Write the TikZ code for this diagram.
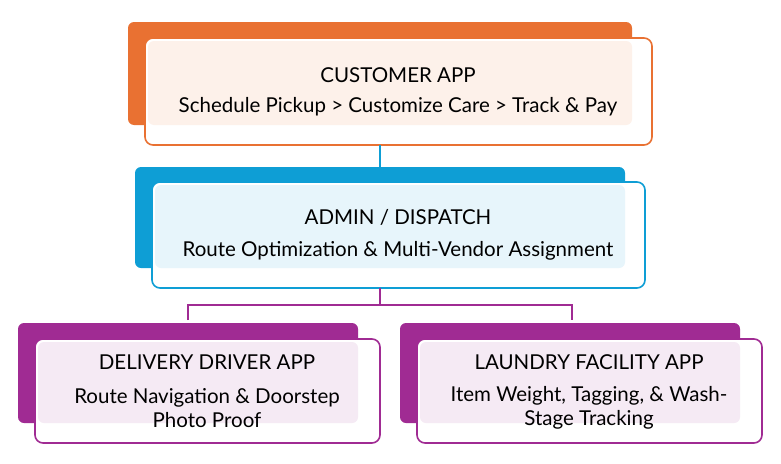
\documentclass[tikz,border=0pt]{standalone}
\usepackage{fontspec}
\setmainfont{Lato}
\definecolor{cOrange}{HTML}{E97132}
\definecolor{cBlue}{HTML}{0E9ED5}
\definecolor{cPurple}{HTML}{A02B93}
\tikzset{
    backbox/.style={fill=#1, rounded corners=6pt},
    framebox/.style={draw=#1, line width=1.6pt, fill=white, rounded corners=8pt},
    tintbox/.style={fill=#1!10, rounded corners=6pt},
    title/.style={font=\fontsize{20.5}{24}\selectfont},
    body/.style={font=\fontsize{20.5}{24}\selectfont, align=center},
    link/.style={draw=#1, line width=1.6pt}
}
\begin{document}
\begin{tikzpicture}[x=1pt,y=-1pt]
    \useasboundingbox (0,0) rectangle (781,463);

    % Customer app
    \fill[backbox=cOrange] (128,22) rectangle (632,125);
    \draw[framebox=cOrange] (145,38) rectangle (652,145);
    \fill[tintbox=cOrange] (148,41) rectangle (632,125);
    \node[title] (cust_t) at (398,75) {CUSTOMER APP};
    \node[body] (cust_b) at (398,107) {Schedule Pickup > Customize Care > Track \& Pay};
    \coordinate (cust_s) at (380,145);

    % Admin / dispatch
    \fill[backbox=cBlue] (135,167) rectangle (625,268);
    \draw[framebox=cBlue] (152,182) rectangle (645,288);
    \fill[tintbox=cBlue] (155,185) rectangle (625,268);
    \node[title] (adm_t) at (398,217) {ADMIN / DISPATCH};
    \node[body] (adm_b) at (398,251) {Route Optimization \& Multi-Vendor Assignment};
    \coordinate (adm_n) at (380,182);
    \coordinate (adm_s) at (380,288);
    \coordinate (adm_j) at (380,305);

    % Delivery driver app
    \fill[backbox=cPurple] (18,323) rectangle (358,423);
    \draw[framebox=cPurple] (35,339) rectangle (380,443);
    \fill[tintbox=cPurple] (38,342) rectangle (358,423);
    \node[title] (drv_t) at (207,362) {DELIVERY DRIVER APP};
    \node[body] (drv_b) at (207,408) {Route Navigation \& Doorstep\\Photo Proof};
    \coordinate (drv_n) at (188,320);

    % Laundry facility app
    \fill[backbox=cPurple] (400,323) rectangle (740,423);
    \draw[framebox=cPurple] (417,339) rectangle (762,443);
    \fill[tintbox=cPurple] (420,342) rectangle (740,423);
    \node[title] (lau_t) at (589,362) {LAUNDRY FACILITY APP};
    \node[body] (lau_b) at (589,408) {Item Weight, Tagging, \& Wash-\\Stage Tracking};
    \coordinate (lau_n) at (572,320);

    % Connectors
    \draw[link=cBlue] (cust_s) -- (adm_n);
    \draw[link=cPurple] (adm_s) -- (adm_j);
    \draw[link=cPurple] (drv_n) |- (adm_j) -| (lau_n);

\end{tikzpicture}
\end{document}
